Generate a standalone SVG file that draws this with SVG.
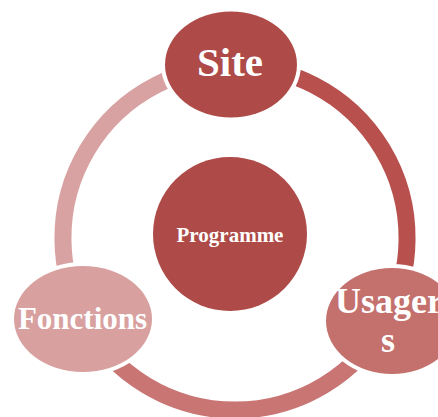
<svg xmlns="http://www.w3.org/2000/svg" width="438" height="417" viewBox="0 0 438 417">
  <style>
    .arc { fill: none; stroke-width: 17; }
    .halo { fill: #FFFFFF; }
    .lbl { font-family: "Liberation Serif", "Times New Roman", serif; font-weight: bold; fill: #FFFFFF; text-anchor: middle; }
  </style>
  <rect width="438" height="417" fill="#FFFFFF"/>
  <g id="connectors">
    <path class="arc" stroke="#D8A2A2" d="M 83.1 318.8 A 172 172 0 0 1 235 66"/>
    <path class="arc" stroke="#B8514E" d="M 235 66 A 172 172 0 0 1 386.9 318.8"/>
    <path class="arc" stroke="#C87574" d="M 386.9 318.8 A 172 172 0 0 1 83.1 318.8"/>
  </g>
  <g id="node-programme">
    <circle cx="230" cy="234" r="77" fill="#AE4A47"/>
    <text class="lbl" x="230" y="242" font-size="21">Programme</text>
  </g>
  <g id="node-site">
    <ellipse class="halo" cx="231" cy="64.5" rx="70" ry="57"/>
    <ellipse cx="231" cy="64.5" rx="66" ry="53" fill="#AE4A47"/>
    <text class="lbl" x="230" y="76" font-size="41">Site</text>
  </g>
  <g id="node-usagers">
    <ellipse class="halo" cx="392" cy="321" rx="70" ry="57"/>
    <ellipse cx="392" cy="321" rx="66" ry="53" fill="#C4716E"/>
    <text class="lbl" x="389" y="313" font-size="36">Usager</text>
    <text class="lbl" x="388" y="352" font-size="36">s</text>
  </g>
  <g id="node-fonctions">
    <ellipse class="halo" cx="83" cy="319" rx="73" ry="57"/>
    <ellipse cx="83" cy="319" rx="69" ry="53" fill="#D8A1A0"/>
    <text class="lbl" x="82.5" y="329" font-size="31">Fonctions</text>
  </g>
</svg>
